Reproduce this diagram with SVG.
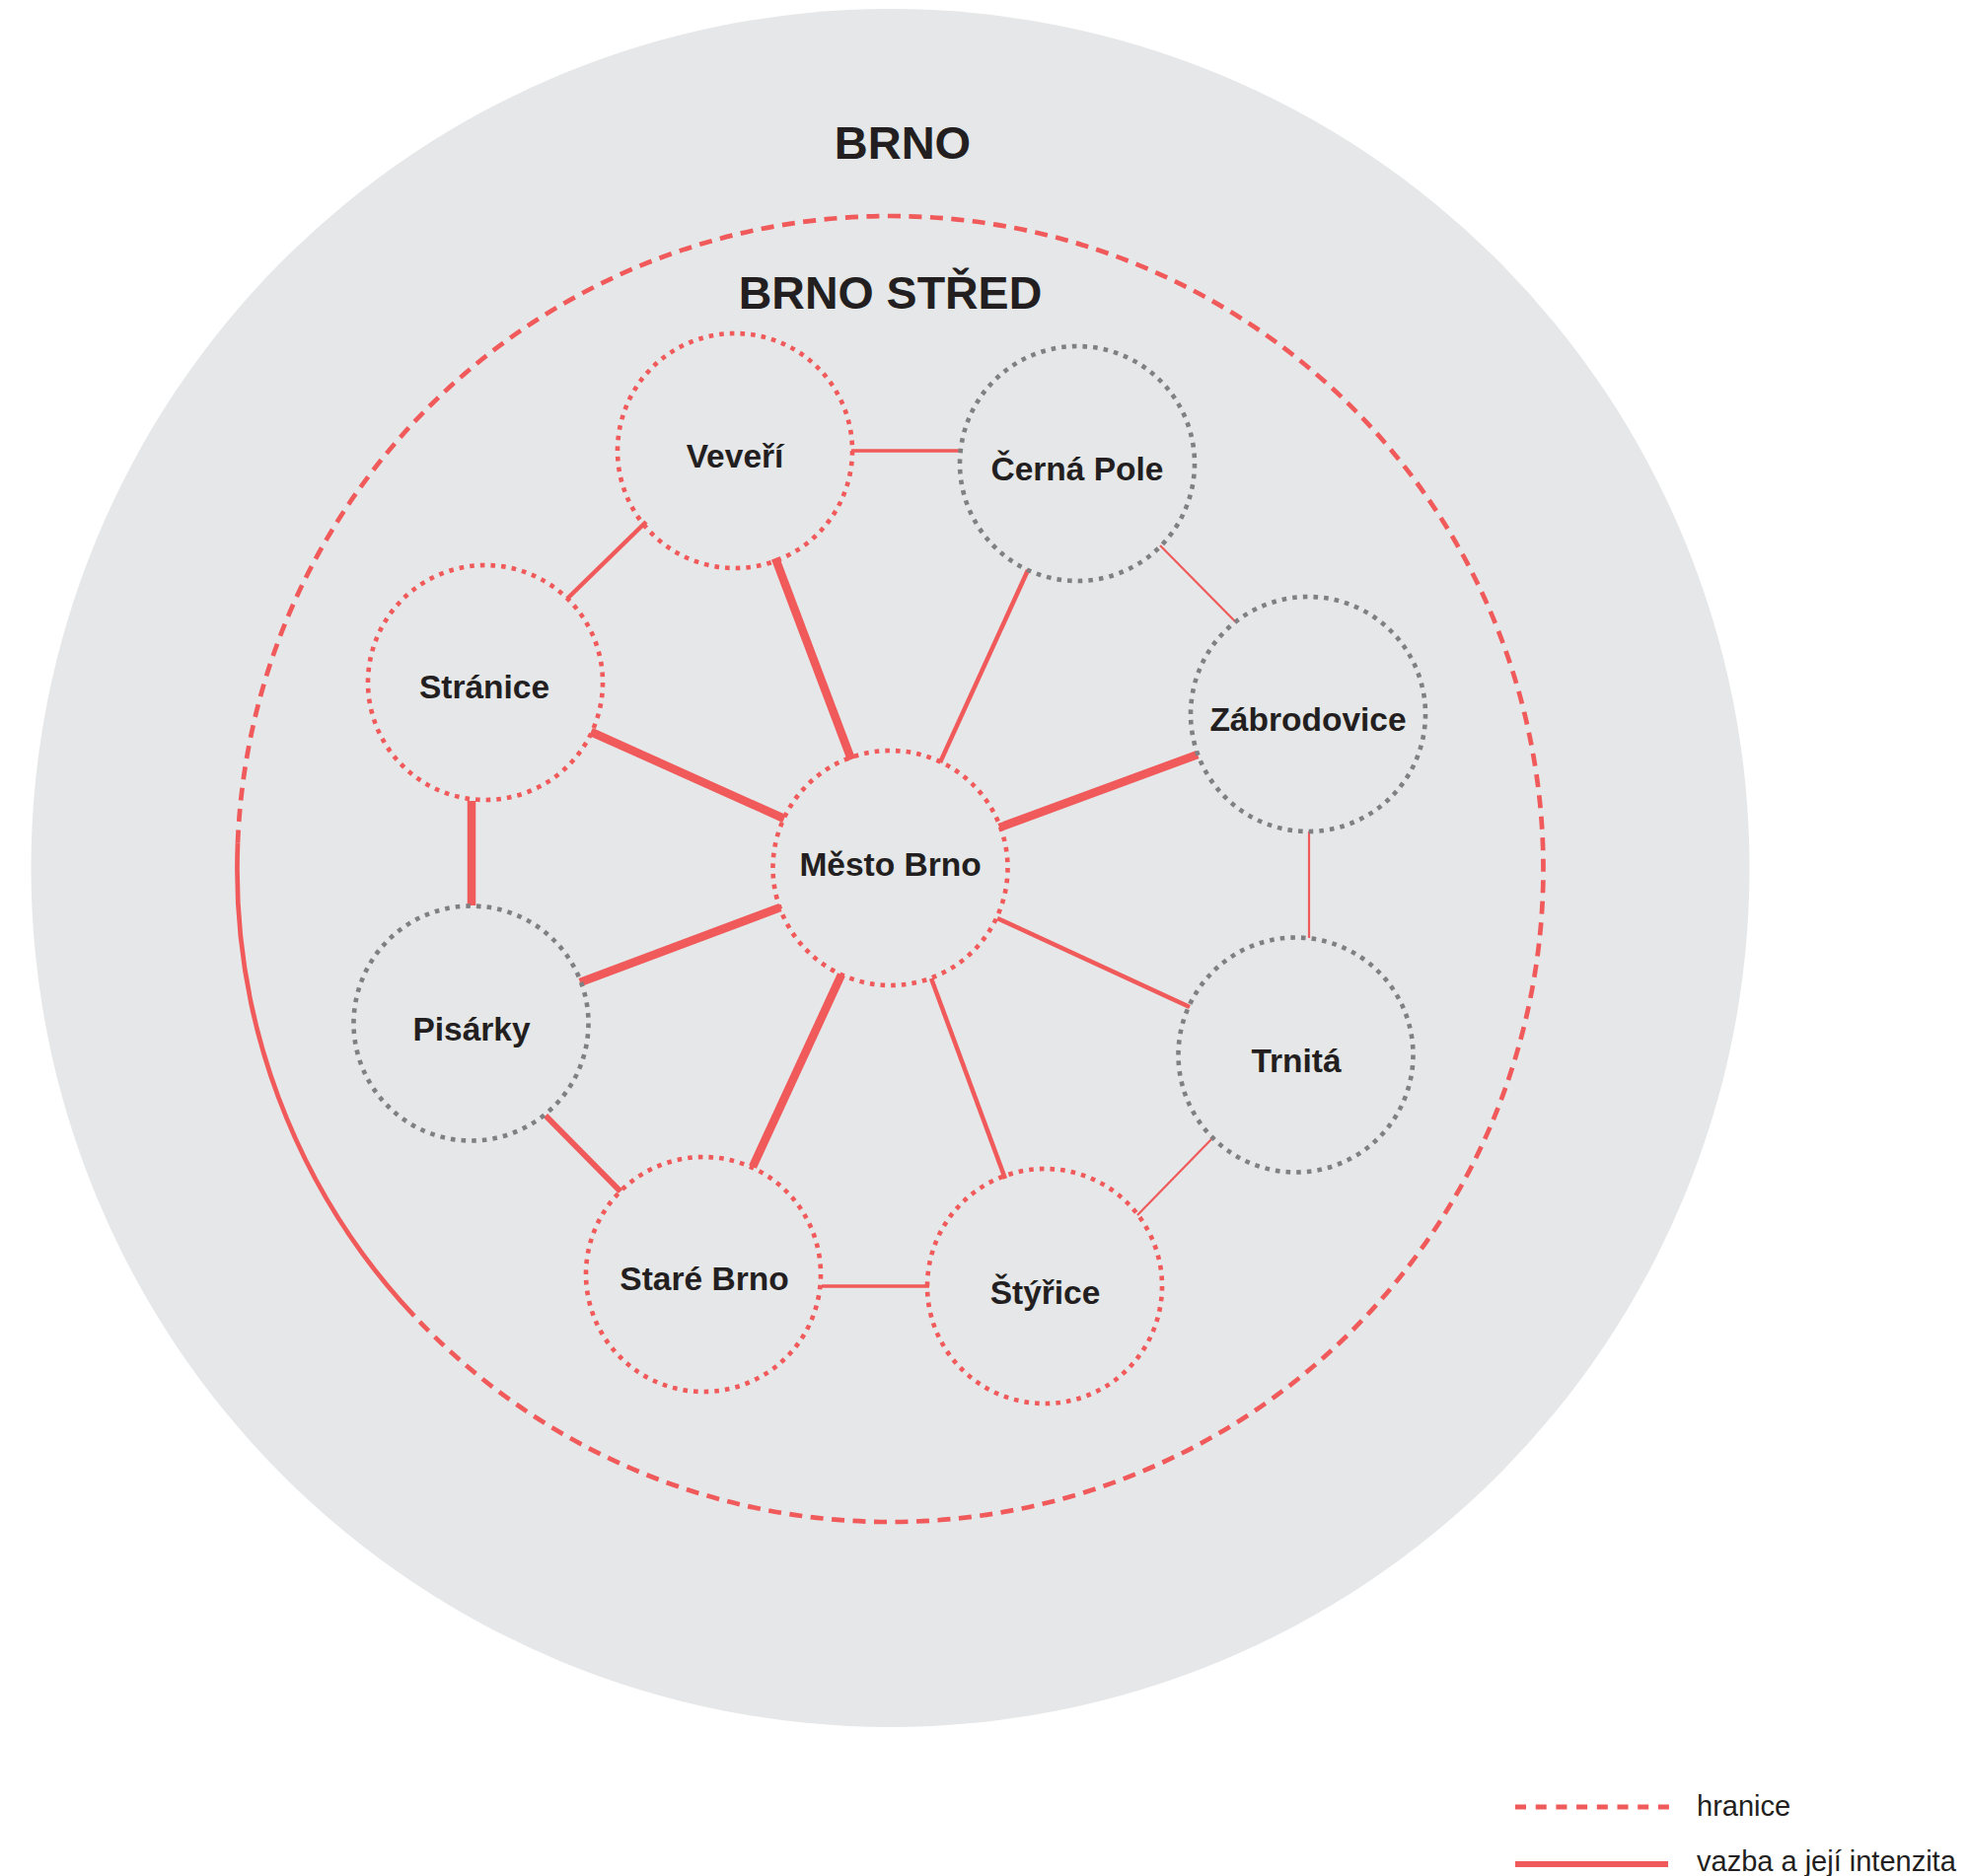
<svg xmlns="http://www.w3.org/2000/svg" width="1996" height="1902" viewBox="0 0 1996 1902">
  <style>
    .area { fill: #e6e7e8; }
    .bound { fill: none; stroke: #f05a5b; stroke-width: 4.7; }
    .bound-dash { stroke-dasharray: 13 8.5; }
    .node-red { fill: none; stroke: #f05a5b; stroke-width: 4.6; stroke-dasharray: 4.6 6.08; }
    .node-grey { fill: none; stroke: #808082; stroke-width: 4.6; stroke-dasharray: 4.6 6.08; }
    .link { stroke: #f05a5b; fill: none; }
    .w1 { stroke-width: 2.2; }
    .w2 { stroke-width: 3.3; }
    .w3 { stroke-width: 4.5; }
    .w4 { stroke-width: 6; }
    .w5 { stroke-width: 8.5; }
    .label { font-family: "Liberation Sans", Arial, sans-serif; font-weight: bold; font-size: 33.5px; fill: #231f20; text-anchor: middle; }
    .title { font-family: "Liberation Sans", Arial, sans-serif; font-weight: bold; fill: #231f20; text-anchor: middle; }
    .legend { font-family: "Liberation Sans", Arial, sans-serif; font-size: 29px; fill: #231f20; }
  </style>

  <!-- city area -->
  <circle class="area" cx="902.5" cy="880" r="871"/>
  <text class="title" x="915" y="161" font-size="47">BRNO</text>

  <!-- district boundary: dashed with a solid stretch on the west side -->
  <g id="boundary">
    <path class="bound bound-dash" d="M 241 854.4 A 662 662 0 1 1 419.9 1334.2"/>
    <path class="bound" d="M 419.9 1334.2 A 662 662 0 0 1 241 854.4"/>
  </g>
  <text class="title" x="902.5" y="313" font-size="46.5">BRNO STŘED</text>

  <!-- connections between city parts -->
  <g id="connectors">
    <line class="link w2" x1="863" y1="457" x2="973" y2="457"/>
    <line class="link w3" x1="655" y1="529" x2="575" y2="607"/>
    <line class="link w5" x1="786" y1="566" x2="863" y2="770"/>
    <line class="link w3" x1="1042" y1="578" x2="953" y2="773"/>
    <line class="link w1" x1="1176" y1="553" x2="1253" y2="631"/>
    <line class="link w5" x1="599" y1="742" x2="795" y2="830"/>
    <line class="link w5" x1="478" y1="812" x2="478" y2="918"/>
    <line class="link w5" x1="1214" y1="765" x2="1013" y2="839"/>
    <line class="link w1" x1="1327" y1="843" x2="1327" y2="951"/>
    <line class="link w5" x1="791" y1="920" x2="588" y2="996"/>
    <line class="link w3" x1="1011" y1="931" x2="1206" y2="1021"/>
    <line class="link w5" x1="853" y1="988" x2="763" y2="1183"/>
    <line class="link w3" x1="944" y1="992" x2="1019" y2="1195"/>
    <line class="link w4" x1="553" y1="1131" x2="629" y2="1208"/>
    <line class="link w1" x1="1230" y1="1153" x2="1153" y2="1232"/>
    <line class="link w2" x1="833" y1="1304" x2="942" y2="1304"/>
  </g>

  <!-- city parts -->
  <g id="veveri">
    <circle class="node-red" cx="745" cy="457" r="119"/>
    <text class="label" x="745" y="474">Veveří</text>
  </g>
  <g id="cerna-pole">
    <circle class="node-grey" cx="1092" cy="470" r="119"/>
    <text class="label" x="1092" y="487">Černá Pole</text>
  </g>
  <g id="stranice">
    <circle class="node-red" cx="492" cy="692" r="119"/>
    <text class="label" x="491" y="708">Stránice</text>
  </g>
  <g id="zabrodovice">
    <circle class="node-grey" cx="1326" cy="724" r="119"/>
    <text class="label" x="1326" y="741">Zábrodovice</text>
  </g>
  <g id="mesto-brno">
    <circle class="node-red" cx="902.5" cy="880" r="119"/>
    <text class="label" x="902.5" y="888">Město Brno</text>
  </g>
  <g id="pisarky">
    <circle class="node-grey" cx="477.5" cy="1037.5" r="119"/>
    <text class="label" x="478" y="1055">Pisárky</text>
  </g>
  <g id="trnita">
    <circle class="node-grey" cx="1313.5" cy="1069.5" r="119"/>
    <text class="label" x="1314" y="1087">Trnitá</text>
  </g>
  <g id="stare-brno">
    <circle class="node-red" cx="713" cy="1292" r="119"/>
    <text class="label" x="714" y="1308">Staré Brno</text>
  </g>
  <g id="styrice">
    <circle class="node-red" cx="1059" cy="1304" r="119"/>
    <text class="label" x="1059.5" y="1322">Štýřice</text>
  </g>

  <!-- legend -->
  <g id="legend">
    <line x1="1536" y1="1832" x2="1692" y2="1832" stroke="#f05a5b" stroke-width="5" stroke-dasharray="11 9.7"/>
    <text class="legend" x="1720" y="1841">hranice</text>
    <line x1="1536" y1="1890" x2="1691" y2="1890" stroke="#f05a5b" stroke-width="6"/>
    <text class="legend" x="1720" y="1897">vazba a její intenzita</text>
  </g>
</svg>
